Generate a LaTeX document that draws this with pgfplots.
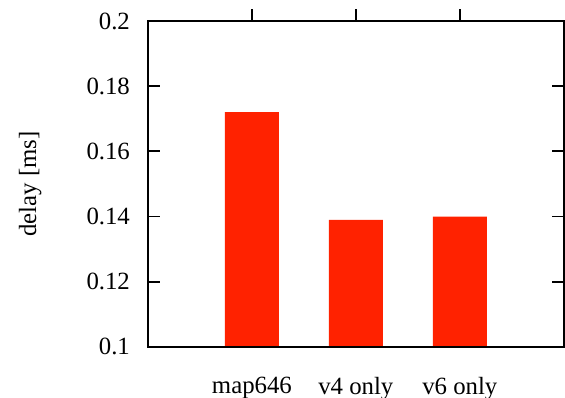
\documentclass[border=0pt]{standalone}
\usepackage{pgfplots}
\pgfplotsset{compat=1.18}
\usetikzlibrary{calc}
\usepackage{fontspec}
\setmainfont{Liberation Serif}
\definecolor{barred}{RGB}{255,34,0}
\begin{document}
\fontsize{12.4}{15}\selectfont
\begin{tikzpicture}
\begin{axis}[
  name=ax,
  scale only axis,
  width=208pt, height=163pt,
  xmin=-1, xmax=3,
  ymin=0.1, ymax=0.2,
  xtick={0,1,2},
  xticklabels={map646, v4 only, v6 only},
  xtick pos=right,
  xticklabel pos=left,
  ytick={0.1,0.12,0.14,0.16,0.18,0.2},
  yticklabels={0.1,0.12,0.14,0.16,0.18,0.2},
  ytick pos=both,
  yticklabel pos=left,
  tick align=inside,
  major tick length=6pt,
  axis line style={line width=1pt},
  every tick/.style={black, line width=0.9pt},
  ylabel={delay [ms]},
  ylabel style={yshift=14pt},
  yticklabel style={xshift=-4.7pt},
  xticklabel style={yshift=-5pt},
  tick label style={font=\fontsize{12.4}{15}\selectfont},
  label style={font=\fontsize{12.4}{15}\selectfont},
  /pgf/number format/assume math mode=true,
  ybar, bar width=27pt,
  axis on top,
]
\addplot[fill=barred, draw=none] coordinates {(0,0.172) (1,0.139) (2,0.140)};
\end{axis}
\pgfresetboundingbox
\path[use as bounding box] ($(ax.south west)+(-74pt,-25.5pt)$) rectangle ($(ax.north east)+(0.6pt,10.5pt)$);
\end{tikzpicture}
\end{document}
